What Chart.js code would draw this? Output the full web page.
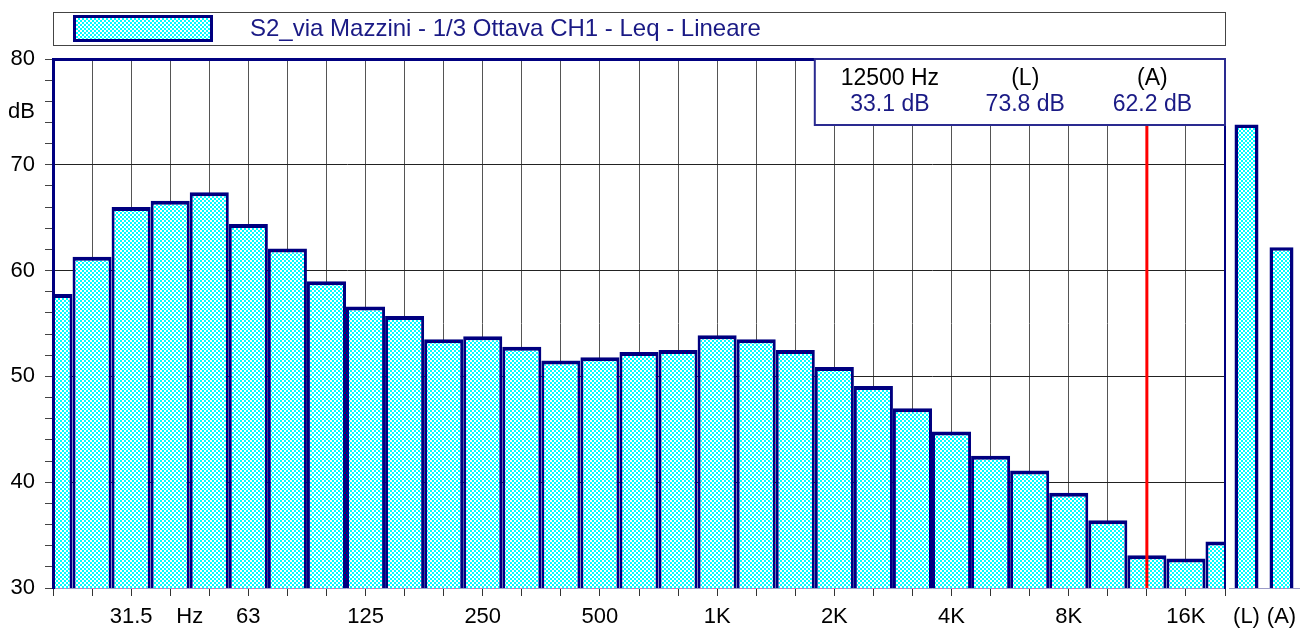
<!DOCTYPE html>
<html>
<head>
<meta charset="utf-8">
<script src="https://cdn.jsdelivr.net/npm/chart.js@4"></script>
<style>
  body { margin: 0; background: #fff; }
  #wrap { position: relative; width: 1313px; height: 632px; }
  canvas { position: absolute; top: 0; }
  #main { left: 0; }
  #tot { left: 1225px; }
</style>
</head>
<body>
<div id="wrap">
  <canvas id="main" width="1232" height="632"></canvas>
  <canvas id="tot" width="88" height="632"></canvas>
</div>
<script>
// 1/3 octave band centres (20 Hz .. 20 kHz)
var bands = ['20','25','31.5','40','50','63','80','100','125','160','200','250','315','400','500',
             '630','800','1K','1.25K','1.6K','2K','2.5K','3.15K','4K','5K','6.3K','8K','10K','12.5K','16K','20K'];
// Leq per band, dB
var levels = [57.8, 61.3, 66.0, 66.6, 67.4, 64.4, 62.1, 59.0, 56.6, 55.7, 53.5, 53.8, 52.8, 51.5, 51.8,
              52.3, 52.5, 53.9, 53.5, 52.5, 50.9, 49.1, 47.0, 44.8, 42.5, 41.1, 39.0, 36.4, 33.1, 32.8, 34.4];
// labels shown under the axis
var shownTicks = ['31.5','63','125','250','500','1K','2K','4K','8K','16K'];
var totals = ['(L)', '(A)'];
var totalLevels = [73.8, 62.2];
var cursorBand = '12.5K';
var cursorHz = 12500;
var seriesName = 'S2_via Mazzini - 1/3 Ottava CH1 - Leq - Lineare';

var NAVY = '#000080';
var TXT = '#1a1a85';
var FONT = "'Liberation Sans', Arial, sans-serif";
Chart.defaults.font.family = FONT;
Chart.defaults.color = '#000';

// cyan / white checker fill
function checker(ctx) {
  var c = document.createElement('canvas');
  c.width = 4; c.height = 4;
  var g = c.getContext('2d');
  g.fillStyle = '#ffffff'; g.fillRect(0, 0, 4, 4);
  g.fillStyle = '#00ffff'; g.fillRect(0, 0, 2, 2); g.fillRect(2, 2, 2, 2);
  return ctx.createPattern(c, 'repeat');
}

var hzPos = 3.5; // "Hz" sits between 40 and 50
var cursorIdx = bands.indexOf(cursorBand);

var framePlugin = {
  id: 'frame',
  afterDatasetsDraw: function(chart) {
    var ctx = chart.ctx, a = chart.chartArea;
    var x = chart.scales.x.getPixelForValue(cursorIdx);
    ctx.save();
    ctx.strokeStyle = '#ff0000';
    ctx.lineWidth = 3;
    ctx.beginPath(); ctx.moveTo(x, a.top); ctx.lineTo(x, a.bottom); ctx.stroke();
    ctx.restore();
  },
  afterDraw: function(chart) {
    var ctx = chart.ctx, a = chart.chartArea;
    ctx.save();
    // legend box
    ctx.strokeStyle = '#444';
    ctx.lineWidth = 1;
    ctx.strokeRect(a.left + 0.5, 12.5, a.right - a.left, 33);
    ctx.fillStyle = chart.data.datasets[0].backgroundColor;
    ctx.fillRect(a.left + 20, 15, 140, 27);
    ctx.strokeStyle = NAVY;
    ctx.lineWidth = 3;
    ctx.strokeRect(a.left + 21.5, 16.5, 137, 24);
    ctx.fillStyle = TXT;
    ctx.font = '24px ' + FONT;
    ctx.textBaseline = 'middle';
    ctx.textAlign = 'left';
    ctx.fillText(seriesName, a.left + 197, 29);

    // cursor read-out box
    var left = chart.scales.x.getPixelForValue(19.5);
    var top = a.top, w = a.right - left, h = 66;
    ctx.fillStyle = '#fff';
    ctx.fillRect(left, top, w, h);
    ctx.strokeStyle = '#2a2a90';
    ctx.lineWidth = 2;
    ctx.strokeRect(left, top, w, h);
    ctx.font = '23px ' + FONT;
    ctx.textAlign = 'center';
    var cols = [0.183, 0.513, 0.823];
    var head = [cursorHz + ' Hz', totals[0], totals[1]];
    var vals = [levels[cursorIdx], totalLevels[0], totalLevels[1]];
    for (var i = 0; i < 3; i++) {
      var cx = left + w * cols[i];
      ctx.fillStyle = '#000';
      ctx.fillText(head[i], cx, top + 20);
      ctx.fillStyle = TXT;
      ctx.fillText(vals[i].toFixed(1) + ' dB', cx, top + 46);
    }
    ctx.restore();
  }
};

function noPad(s) { s.paddingTop = 0; s.paddingBottom = 0; s.paddingLeft = 0; s.paddingRight = 0; }

var mainCtx = document.getElementById('main').getContext('2d');
var mainChart = new Chart(mainCtx, {
  type: 'bar',
  data: {
    labels: bands,
    datasets: [{
      label: seriesName,
      data: levels,
      backgroundColor: checker(mainCtx),
      borderColor: NAVY,
      borderWidth: { top: 4, left: 3, right: 3, bottom: 0 },
      borderSkipped: 'start',
      inflateAmount: 0,
      barThickness: 'flex',
      barPercentage: 1,
      categoryPercentage: 1,
      clip: 0
    }]
  },
  options: {
    responsive: false,
    animation: false,
    layout: { padding: { top: 59, right: 7, left: 0, bottom: 0 } },
    plugins: { legend: { display: false }, tooltip: { enabled: false } },
    scales: {
      x: {
        type: 'category',
        position: 'bottom',
        offset: false,
        afterBuildTicks: function(s) {
          var t = bands.map(function(b, i) { return { value: i }; });
          t.splice(4, 0, { value: hzPos });
          s.ticks = t;
        },
        afterFit: function(s) { s.height = 44; noPad(s); },
        ticks: {
          autoSkip: false, maxRotation: 0, padding: 8, font: { size: 22 }, color: '#000',
          callback: function(v) {
            if (v === hzPos) return 'Hz';
            var b = bands[v];
            return shownTicks.indexOf(b) >= 0 ? b : '';
          }
        },
        grid: {
          offset: false,
          lineWidth: 1,
          tickLength: 8,
          color: function(c) {
            var v = c.tick ? c.tick.value : -1;
            if (v === hzPos || v === 0 || v === bands.length - 1) return 'transparent';
            return '#555';
          },
          tickColor: function(c) {
            return c.tick && c.tick.value === hzPos ? 'transparent' : '#333';
          }
        },
        border: { color: '#9a9ac8', width: 1 }
      },
      xTop: {
        type: 'linear', position: 'top', min: 0, max: 1,
        afterFit: function(s) { s.height = 0; noPad(s); },
        ticks: { display: false },
        grid: { display: false, drawTicks: false },
        border: { color: NAVY, width: 3, z: 1 }
      },
      y: {
        type: 'linear', position: 'left', min: 30, max: 80,
        afterFit: function(s) { s.width = 53; noPad(s); },
        ticks: {
          stepSize: 1, autoSkip: false, padding: 10, font: { size: 22 }, color: '#000',
          callback: function(v) {
            if (v % 10 === 0) return String(v);
            if (v === 75) return 'dB';
            return '';
          }
        },
        grid: {
          tickLength: 8,
          lineWidth: 1,
          color: function(c) {
            var v = c.tick ? c.tick.value : 0;
            return (v % 10 === 0 && v > 30 && v < 80) ? '#222' : 'transparent';
          },
          tickColor: function(c) {
            var v = c.tick ? c.tick.value : 1;
            return v % 2 === 0 ? '#444' : 'transparent';
          }
        },
        border: { color: NAVY, width: 3, z: 1 }
      },
      yR: {
        type: 'linear', position: 'right', min: 30, max: 80,
        afterFit: function(s) { s.width = 0; noPad(s); },
        ticks: { display: false },
        grid: { display: false, drawTicks: false },
        border: { color: NAVY, width: 2, z: 1 }
      }
    }
  },
  plugins: [framePlugin]
});

var totCtx = document.getElementById('tot').getContext('2d');
var totChart = new Chart(totCtx, {
  type: 'bar',
  data: {
    labels: totals,
    datasets: [{
      data: totalLevels,
      backgroundColor: checker(totCtx),
      borderColor: NAVY,
      borderWidth: 3.5,
      borderSkipped: 'start',
      inflateAmount: 0,
      barThickness: 24,
      categoryPercentage: 1
    }]
  },
  options: {
    responsive: false,
    animation: false,
    layout: { padding: { top: 59, left: 4, right: 14, bottom: 0 } },
    plugins: { legend: { display: false }, tooltip: { enabled: false } },
    scales: {
      x: {
        afterFit: function(s) { s.height = 44; noPad(s); },
        grid: { display: false },
        ticks: { padding: 8, font: { size: 22 }, color: '#000', maxRotation: 0, autoSkip: false },
        border: { color: '#9a9ac8', width: 1 }
      },
      y: { display: false, min: 30, max: 80 }
    }
  }
});
</script>
</body>
</html>
